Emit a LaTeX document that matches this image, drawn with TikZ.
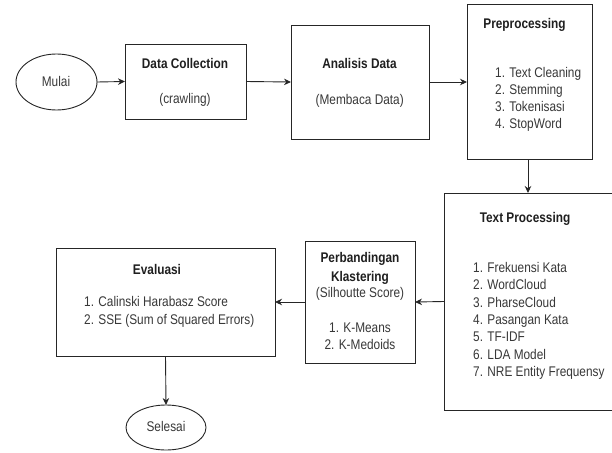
\documentclass[tikz,border=0pt]{standalone}
\usepackage{fontspec}
\setmainfont[FakeStretch=0.845]{Liberation Sans}
\usetikzlibrary{arrows.meta,shapes.geometric}
\begin{document}
\begin{tikzpicture}[x=1pt,y=-1pt,
  box/.style={draw=black!85, line width=0.9pt, inner sep=0pt, outer sep=0pt, fill=white},
  oval/.style={draw=black!85, line width=0.9pt, ellipse, inner sep=0pt, outer sep=0pt, fill=white},
  txt/.style={font=\fontsize{14}{17.4}\selectfont, text=black!78, inner sep=0pt},
  ttl/.style={font=\fontsize{14}{17.4}\selectfont\bfseries, text=black!88, inner sep=0pt},
  arr/.style={draw=black!85, line width=0.9pt, -{Stealth[length=7pt,width=6.5pt]}}]
\path[use as bounding box] (0,0) rectangle (612,452);
\clip (0,0) rectangle (612,452);

% shapes
\node[oval, minimum width=81pt, minimum height=56pt] (mulai) at (56.5,82) {};
\node[box, minimum width=121pt, minimum height=75pt] (dc) at (185.5,81.5) {};
\node[box, minimum width=138pt, minimum height=114pt] (ana) at (360,82) {};
\node[box, minimum width=125pt, minimum height=155pt] (pre) at (529.5,81.5) {};
\node[box, minimum width=186pt, minimum height=217pt] (tp) at (537,301.5) {};
\node[box, minimum width=110pt, minimum height=122pt] (perb) at (360,302) {};
\node[box, minimum width=219pt, minimum height=108pt] (eva) at (165.5,302) {};
\node[oval, minimum width=80pt, minimum height=45pt] (sel) at (166,427.5) {};

% texts
\node[txt, anchor=base] (tmulai) at (56,86.5) {Mulai};
\node[ttl, anchor=base] (tdc) at (185,68.5) {Data Collection};
\node[txt, anchor=base] (tcrawl) at (185,103) {(crawling)};
\node[ttl, anchor=base] (tana) at (359.5,68.5) {Analisis Data};
\node[txt, anchor=base] (tmem) at (359.7,104) {(Membaca Data)};
\node[ttl, anchor=base] (tpre) at (524.5,28.5) {Preprocessing};
\foreach \t [count=\i from 0] in {1. Text Cleaning, 2. Stemming, 3. Tokenisasi, 4. StopWord}
  \node[txt, anchor=base west] (pre\i) at (495,77+17.1*\i) {\t};
\node[ttl, anchor=base] (ttp) at (525,222.5) {Text Processing};
\foreach \t [count=\i from 0] in {1. Frekuensi Kata, 2. WordCloud, 3. PharseCloud, 4. Pasangan Kata, 5. TF-IDF, 6. LDA Model, 7. NRE Entity Frequensy}
  \node[txt, anchor=base west] (tp\i) at (473,272.5+17.33*\i) {\t};
\node[ttl, anchor=base] (tperb1) at (360,262.5) {Perbandingan};
\node[ttl, anchor=base] (tperb2) at (360,281.5) {Klastering};
\node[txt, anchor=base] (tperb3) at (360,297) {(Silhoutte Score)};
\node[txt, anchor=base] (tperb4) at (360,332.5) {1. K-Means};
\node[txt, anchor=base] (tperb5) at (360,349.5) {2. K-Medoids};
\node[ttl, anchor=base] (teva) at (157,274.5) {Evaluasi};
\node[txt, anchor=base west] (teva1) at (84,306.5) {1. Calinski Harabasz Score};
\node[txt, anchor=base west] (teva2) at (84,324.5) {2. SSE (Sum of Squared Errors)};
\node[txt, anchor=base] (tsel) at (166,431.5) {Selesai};

% connectors
\draw[arr] (mulai.east) -- (dc.west);
\draw[arr] (dc.east) -- (ana.west);
\draw[arr] (ana.east) -- (ana.east -| pre.west);
\draw[arr] ([xshift=-1.5pt]pre.south) -- ([xshift=-1.5pt]pre.south |- tp.north);
\draw[arr] (tp.west) -- (perb.east);
\draw[arr] (perb.west) -- (eva.east);
\draw[arr] (eva.south) -- (sel.north);
\end{tikzpicture}
\end{document}
